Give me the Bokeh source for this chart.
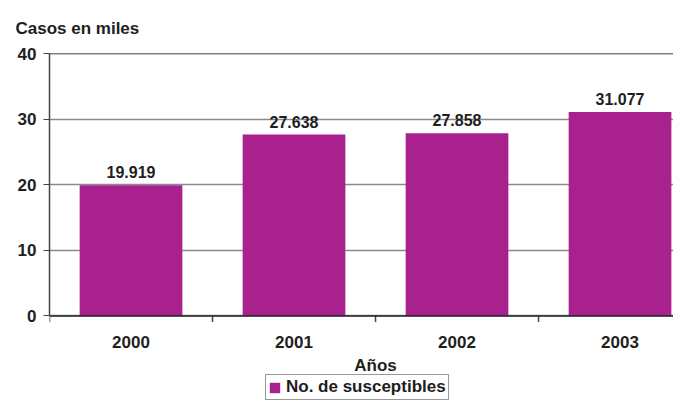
from bokeh.plotting import figure
from bokeh.models import FixedTicker, Span, Range1d, Legend, LegendItem
from bokeh.core.properties import value
from bokeh.embed import file_html
from bokeh.resources import INLINE

years = ["2000", "2001", "2002", "2003"]
cases = [19.919, 27.638, 27.858, 31.077]
value_labels = ["19.919", "27.638", "27.858", "31.077"]
y_ticks = [0, 10, 20, 30, 40]
x_title = "Años"
series_name = "No. de susceptibles"

FONT = "Liberation Sans"
TXT = "#1e1e1e"
BAR = "#A8218E"

xs = list(range(len(years)))
bounds = [x - 0.5 for x in xs]
px_per_unit = 264 / 40.0

p = figure(width=673, height=401, output_backend="svg", toolbar_location=None,
           x_range=Range1d(-0.5, 3.328), y_range=Range1d(-86 / px_per_unit, 40),
           x_axis_location=None,
           min_border_left=49, min_border_right=0, min_border_top=51, min_border_bottom=0)
p.outline_line_color = None
p.background_fill_color = "white"

p.title.text = "Casos en miles"
p.title.align = "left"
p.title.offset = -34
p.title.standoff = 32
p.title.text_font = FONT
p.title.text_font_size = "17px"
p.title.text_font_style = "bold"
p.title.text_color = TXT

p.xgrid.grid_line_color = None
p.ygrid.grid_line_color = "#8a8a8a"
p.ygrid.grid_line_width = 1.5
p.ygrid.ticker = FixedTicker(ticks=y_ticks)

bars = p.vbar(x=xs, top=cases, width=0.63, color=BAR, line_color=None)
p.text(x=xs, y=cases, text=value_labels, text_align="center", text_baseline="bottom",
       y_offset=-7, text_font_size="16px", text_font_style="bold", text_color=TXT,
       text_font=value(FONT))

p.add_layout(Span(location=40, dimension="width", line_color="black", line_width=1.5))
p.add_layout(Span(location=0, dimension="width", line_color="#222222", line_width=1.5))

# category boundary ticks below the x axis line
p.segment(x0=bounds, y0=[0] * len(bounds), x1=bounds, y1=[-6 / px_per_unit] * len(bounds),
          line_color="#444444", line_width=1.5)

# category labels and axis title
p.text(x=xs, y=[0] * len(xs), text=years, text_align="center", text_baseline="middle",
       y_offset=26, text_font_size="17px", text_font_style="bold", text_color=TXT,
       text_font=value(FONT))
p.text(x=[(xs[0] + xs[-1]) / 2], y=[0], text=[x_title], text_align="center",
       text_baseline="middle", y_offset=50, text_font_size="17px", text_font_style="bold",
       text_color=TXT, text_font=value(FONT))

ya = p.yaxis[0]
ya.ticker = FixedTicker(ticks=y_ticks)
ya.bounds = (0, 40)
ya.axis_line_color = "#444444"
ya.axis_line_width = 1.5
ya.major_tick_line_color = "#444444"
ya.major_tick_out = 6
ya.major_tick_in = 0
ya.minor_tick_line_color = None
ya.major_label_standoff = 7
ya.major_label_text_font = FONT
ya.major_label_text_font_size = "17px"
ya.major_label_text_font_style = "bold"
ya.major_label_text_color = TXT

lg = Legend(items=[LegendItem(label=series_name, renderers=[bars])])
lg.location = (216, 1)
lg.orientation = "horizontal"
lg.border_line_color = "#333333"
lg.border_line_width = 1
lg.background_fill_color = "white"
lg.background_fill_alpha = 1
lg.padding = 2
lg.margin = 0
lg.glyph_width = 13
lg.glyph_height = 13
lg.label_standoff = 5
lg.label_text_font = FONT
lg.label_text_font_size = "17px"
lg.label_text_font_style = "bold"
lg.label_text_color = TXT
lg.label_height = 16
p.add_layout(lg, "center")

open("out.html", "w").write(file_html(p, INLINE))
